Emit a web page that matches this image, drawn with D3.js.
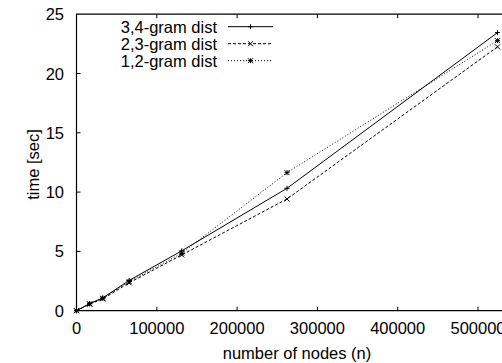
<!DOCTYPE html>
<html>
<head>
<meta charset="utf-8">
<script src="https://cdn.jsdelivr.net/npm/d3@7"></script>
<style>
  body { margin: 0; background: #fff; }
  svg { display: block; overflow: hidden; }
  text { font-family: "Liberation Sans", Arial, sans-serif; font-size: 16.5px; fill: #000; }
</style>
</head>
<body>
<div id="chart"></div>
<script>
(function() {
// number of nodes (n)
var nodes = [0, 16384, 32768, 65536, 131072, 262144, 524288];

// time [sec] for each run
var gram34 = [0, 0.6, 1.08, 2.55, 5.05, 10.32, 23.45];
var gram23 = [0, 0.55, 1.0, 2.35, 4.7, 9.42, 22.25];
var gram12 = [0, 0.58, 1.05, 2.45, 4.85, 11.64, 22.77];

var xTicks = [0, 100000, 200000, 300000, 400000, 500000];
var yTicks = [0, 5, 10, 15, 20, 25];

var series = [
  {name: '3,4-gram dist', values: gram34, dash: null, mark: 'plus'},
  {name: '2,3-gram dist', values: gram23, dash: '3,2', mark: 'cross'},
  {name: '1,2-gram dist', values: gram12, dash: '1,2', mark: 'star'}
];

var width = 502, height = 363,
    left = 76.5, top = 14.2, bottom = 310.7,
    pxPer100k = 80.3;

var svg = d3.select('#chart').append('svg')
    .attr('width', width)
    .attr('height', height);

var x = d3.scaleLinear()
    .domain([0, 600000])
    .range([left, left + pxPer100k * 6]);
var y = d3.scaleLinear()
    .domain([0, 25])
    .range([bottom, top]);

var right = x(600000);

// markers, gnuplot style
var markPath = function(type, r) {
  var p = '';
  if (type === 'plus' || type === 'star') {
    p += 'M' + (-r) + ',0H' + r + 'M0,' + (-r) + 'V' + r;
  }
  if (type === 'cross' || type === 'star') {
    p += 'M' + (-r) + ',' + (-r) + 'L' + r + ',' + r +
        'M' + (-r) + ',' + r + 'L' + r + ',' + (-r);
  }
  return p;
};

// frame (right side falls outside the picture)
svg.append('path')
    .attr('d', 'M' + right + ',' + top + 'H' + left + 'V' + bottom + 'H' + right)
    .attr('fill', 'none')
    .attr('stroke', '#000')
    .attr('stroke-width', 1.2);

// x ticks, bottom and top, pointing inward
var tickLen = 4;
svg.selectAll('xtick').data(xTicks.slice(1))
  .enter().append('path')
    .attr('d', function(d) {
      return 'M' + x(d) + ',' + bottom + 'v' + (-tickLen) +
          'M' + x(d) + ',' + top + 'v' + tickLen;
    })
    .attr('stroke', '#000');

svg.selectAll('ytick').data(yTicks.slice(1, -1))
  .enter().append('path')
    .attr('d', function(d) { return 'M' + left + ',' + y(d) + 'h' + tickLen; })
    .attr('stroke', '#000');

svg.selectAll('xlabel').data(xTicks)
  .enter().append('text')
    .attr('x', function(d) { return x(d); })
    .attr('y', 334)
    .attr('text-anchor', 'middle')
    .text(function(d) { return d; });

svg.selectAll('ylabel').data(yTicks)
  .enter().append('text')
    .attr('x', 64)
    .attr('y', function(d) { return y(d) + 6; })
    .attr('text-anchor', 'end')
    .text(function(d) { return d; });

svg.append('text')
    .attr('x', 297)
    .attr('y', 359)
    .attr('text-anchor', 'middle')
    .text('number of nodes (n)');

svg.append('text')
    .attr('transform', 'translate(39,164.5) rotate(-90)')
    .attr('text-anchor', 'middle')
    .text('time [sec]');

var line = d3.line()
    .x(function(d, i) { return x(nodes[i]); })
    .y(function(d) { return y(d); });

series.forEach(function(s, k) {
  svg.append('path')
      .attr('d', line(s.values))
      .attr('fill', 'none')
      .attr('stroke', '#000')
      .attr('stroke-width', 1)
      .attr('stroke-dasharray', s.dash);

  svg.selectAll('mark' + k).data(s.values)
    .enter().append('path')
      .attr('d', markPath(s.mark, 2.5))
      .attr('transform', function(d, i) {
        return 'translate(' + x(nodes[i]) + ',' + y(d) + ')';
      })
      .attr('fill', 'none')
      .attr('stroke', '#000')
      .attr('stroke-width', 1);

  // legend row
  var ly = 26.7 + k * 17;
  svg.append('text')
      .attr('x', 217)
      .attr('y', ly + 6.3)
      .attr('text-anchor', 'end')
      .text(s.name);
  svg.append('path')
      .attr('d', 'M228,' + ly + 'H273')
      .attr('stroke', '#000')
      .attr('stroke-width', 1)
      .attr('stroke-dasharray', s.dash);
  svg.append('path')
      .attr('d', markPath(s.mark, 2.5))
      .attr('transform', 'translate(250.5,' + ly + ')')
      .attr('fill', 'none')
      .attr('stroke', '#000');
});

})();
</script>
</body>
</html>
